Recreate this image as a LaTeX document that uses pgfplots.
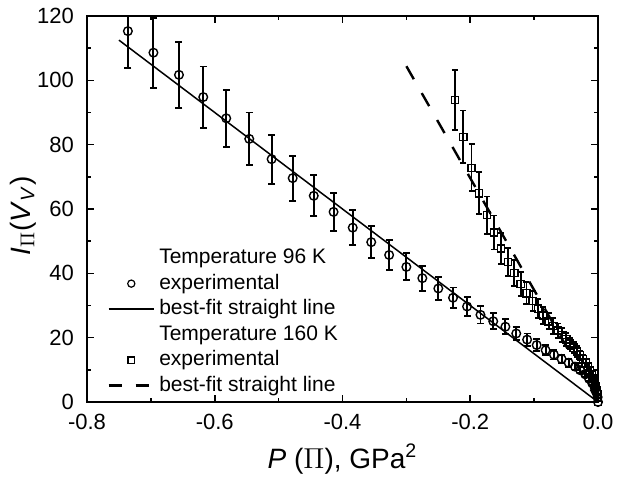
\documentclass[border=0pt]{standalone}
\usepackage{fontspec}
\setmainfont{Liberation Sans}
\usepackage{pgfplots}
\usepackage{pgfplotstable}
\pgfplotsset{compat=1.18}

\pgfplotstableread{
x y e
-0.736 115.3 11.5
-0.696 108.6 10.9
-0.656 101.7 10.2
-0.618 94.8 9.5
-0.582 88.2 8.8
-0.546 81.8 8.2
-0.511 75.5 7.6
-0.478 69.6 7.0
-0.445 64.1 6.4
-0.414 59.1 5.9
-0.384 54.2 5.4
-0.355 49.7 5.0
-0.327 45.7 4.6
-0.300 42.0 4.2
-0.275 38.5 3.9
-0.250 35.3 3.5
-0.227 32.4 3.2
-0.205 29.7 3.0
-0.184 27.1 2.7
-0.164 25.1 2.5
-0.145 23.4 2.3
-0.128 21.3 2.1
-0.111 19.4 1.9
-0.096 17.7 1.8
-0.082 16.1 1.6
-0.069 14.7 1.5
-0.057 13.4 1.3
-0.046 12.2 1.2
-0.036 11.0 1.1
-0.028 9.9 1.0
-0.020 8.6 0.9
-0.014 7.2 0.7
-0.009 5.8 0.6
-0.005 4.4 0.4
-0.0023 2.9 0.3
-0.0006 1.5 0.15
0 0 0
}\tlow

\pgfplotstableread{
x y e
-0.224 93.9 9.4
-0.211 82.4 8.2
-0.198 72.8 7.3
-0.186 64.9 6.5
-0.174 58.1 5.8
-0.163 52.7 5.3
-0.152 47.7 4.8
-0.141 43.5 4.4
-0.131 40.1 4.0
-0.121 36.7 3.7
-0.112 33.8 3.4
-0.1025 31.4 3.1
-0.094 29.0 2.9
-0.0855 26.9 2.7
-0.0775 25.1 2.5
-0.070 23.6 2.4
-0.063 22.2 2.2
-0.056 20.8 2.1
-0.0496 19.5 2.0
-0.0436 18.2 1.8
-0.038 16.9 1.7
-0.0328 15.7 1.6
-0.0279 14.5 1.5
-0.0234 13.3 1.3
-0.0194 12.2 1.2
-0.0157 11.0 1.1
-0.0124 9.8 1.0
-0.0095 8.6 0.9
-0.0070 7.4 0.7
-0.0048 6.2 0.6
-0.0031 5.0 0.5
-0.0017 3.7 0.4
-0.0008 2.5 0.25
-0.0002 1.3 0.13
0 0 0
}\thigh

\begin{document}
\begin{tikzpicture}
\begin{axis}[
  scale only axis,
  width=255.5pt, height=193pt,
  xmin=-0.8, xmax=0, ymin=0, ymax=120,
  xtick={-0.8,-0.6,-0.4,-0.2,0},
  xticklabels={-0.8,-0.6,-0.4,-0.2,0.0},
  ytick={0,20,40,60,80,100,120},
  yticklabels={0,20,40,60,80,100,120},
  minor x tick num=1, minor y tick num=1,
  tick align=inside, xtick pos=both, ytick pos=both,
  major tick length=3.5pt, minor tick length=2pt,
  every tick/.style={black, line width=0.8pt},
  axis line style={line width=0.85pt},
  ticklabel style={font=\fontsize{11}{13}\selectfont},
  xticklabel style={yshift=-2.5pt},
  yticklabel style={xshift=-3pt},
  label style={font=\fontsize{14}{16}\selectfont},
  xlabel={\textit{P} ($\Pi$), GPa\textsuperscript{2}},
  ylabel={\textit{I}\textsubscript{$\Pi$}(\textit{V}\textsubscript{\textit{V}})},
  xlabel style={at={(axis description cs:0.5,-0.171)}, anchor=base},
  ylabel style={at={(axis description cs:-0.1115,0.482)}, anchor=base},
  legend image code/.code={\draw[mark repeat=2,mark phase=2,#1] plot coordinates {(0cm,0cm) (0.4cm,0cm) (0.8cm,0cm)};},
  legend style={draw=none, fill=none, at={(0.039,0.009)}, anchor=south west,
    inner sep=0pt, row sep=0.25pt, column sep=1pt,
    nodes={inner sep=1pt, text height=8pt, text depth=2.5pt},
    font=\fontsize{10.5}{12}\selectfont, cells={anchor=west}},
]
\addlegendimage{empty legend}
\addlegendentry{Temperature 96 K}
\addlegendimage{only marks, mark=o, mark size=1.8pt, black, line width=0.6pt}
\addlegendentry{experimental}
\addlegendimage{black, line width=0.75pt}
\addlegendentry{best-fit straight line}
\addlegendimage{empty legend}
\addlegendentry{Temperature 160 K}
\addlegendimage{only marks, mark=square, mark size=1.6pt, black, line width=0.6pt}
\addlegendentry{experimental}
\addlegendimage{black, line width=1.2pt, dash pattern=on 6.8pt off 6.8pt}
\addlegendentry{best-fit straight line}

\addplot[forget plot, black, line width=0.75pt] coordinates {(-0.75,112.5) (0,0)};
\addplot[forget plot, black, line width=1.2pt, dash pattern=on 7.5pt off 8pt] coordinates {(-0.3,104.4) (0,0)};

\addplot[forget plot, black, only marks, mark=o, mark size=2.15pt,
  mark options={fill=white, line width=0.7pt},
  error bars/.cd, y dir=both, y explicit,
  error bar style={line width=0.95pt},
  error mark options={rotate=90, line width=0.95pt, mark size=1.75pt}]
  table[x=x, y=y, y error=e] {\tlow};

\addplot[forget plot, black, only marks, mark=square, mark size=1.8pt,
  mark options={fill=white, line width=0.7pt},
  error bars/.cd, y dir=both, y explicit,
  error bar style={line width=0.9pt},
  error mark options={rotate=90, line width=0.9pt, mark size=1.5pt}]
  table[x=x, y=y, y error=e] {\thigh};
\end{axis}
\path (current axis.south west) ++(-43.5pt,-39.5pt) coordinate (bbA);
\path (current axis.north east) ++(9.5pt,8pt) coordinate (bbB);
\pgfresetboundingbox
\path[use as bounding box] (bbA) rectangle (bbB);
\end{tikzpicture}
\end{document}
